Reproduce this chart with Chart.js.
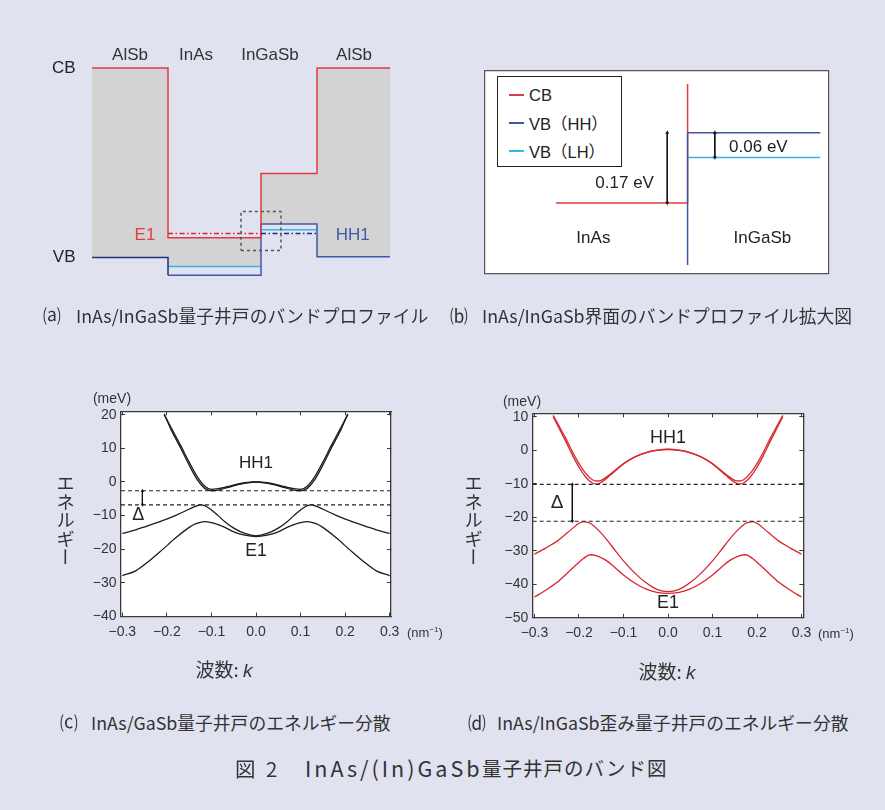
<!DOCTYPE html>
<html lang="ja">
<head>
<meta charset="utf-8">
<title>InAs/(In)GaSb量子井戸のバンド図</title>
<script src="https://cdn.jsdelivr.net/npm/chart.js@4.4.1/dist/chart.umd.min.js"></script>
<style>
  html, body { margin: 0; padding: 0; }
  body {
    width: 885px; height: 810px; position: relative; overflow: hidden;
    background: #e1e2f0; color: #333;
    font-family: "Noto Sans CJK JP", "Noto Sans", sans-serif;
  }
  canvas { position: absolute; }
  .t { position: absolute; white-space: nowrap; line-height: 1; transform: translateY(-50%); }
  .c { transform: translate(-50%, -50%); }
  .lat { font-family: "Liberation Sans", Arial, "Noto Sans CJK JP", sans-serif; }
  .cap { font-size: 17.8px; }
  .vt { position: absolute; writing-mode: vertical-rl; font-size: 18.5px; line-height: 1; }
  .legend {
    position: absolute; left: 497px; top: 76px; width: 125px; height: 91px;
    box-sizing: border-box; border: 1.3px solid #222; background: #fff;
  }
  .legend .row {
    position: absolute; left: 0; height: 20px; display: flex; align-items: center;
    font: 16.5px "Liberation Sans", Arial, "Noto Sans CJK JP", sans-serif; color: #222;
  }
  .legend .sw { display: block; width: 15px; height: 2px; margin: 0 5px 0 11px; }
  sup { font-size: 8px; vertical-align: 5px; }
</style>
</head>
<body>
<canvas id="bandA" width="420" height="270" style="left:30px;top:30px"></canvas>
<canvas id="bandB" width="360" height="220" style="left:480px;top:60px"></canvas>
<div id="legendB" class="legend"></div>
<canvas id="dispC" width="420" height="310" style="left:40px;top:380px"></canvas>
<canvas id="dispD" width="420" height="310" style="left:460px;top:380px"></canvas>

<!-- axis titles -->
<div class="vt" style="left:56px;top:474px">エネルギー</div>
<div class="vt" style="left:464px;top:474px">エネルギー</div>
<div class="t c lat" style="left:112px;top:398px;font-size:14px">(meV)</div>
<div class="t c lat" style="left:522px;top:401px;font-size:14px">(meV)</div>
<div class="t lat" style="left:407px;top:632px;font-size:13px">(nm<sup>−1</sup>)</div>
<div class="t lat" style="left:818px;top:633px;font-size:13px">(nm<sup>−1</sup>)</div>
<div class="t c" style="left:224px;top:669px;font-size:19px">波数: <i class="lat">k</i></div>
<div class="t c" style="left:667px;top:671px;font-size:19px">波数: <i class="lat">k</i></div>

<!-- captions -->
<div class="t cap" style="left:43px;top:316px">⒜</div>
<div class="t cap" style="left:76px;top:316px">InAs/InGaSb量子井戸のバンドプロファイル</div>
<div class="t cap" style="left:450px;top:316px">⒝</div>
<div class="t cap" style="left:482px;top:316px">InAs/InGaSb界面のバンドプロファイル拡大図</div>
<div class="t cap" style="left:60px;top:723px">⒞</div>
<div class="t cap" style="left:91px;top:723px">InAs/GaSb量子井戸のエネルギー分散</div>
<div class="t cap" style="left:468px;top:723px">⒟</div>
<div class="t cap" style="left:497px;top:723px">InAs/InGaSb歪み量子井戸のエネルギー分散</div>

<div class="t" style="left:235px;top:768px;font-size:20.5px;letter-spacing:3px">図&nbsp;2</div>
<div class="t" style="left:305px;top:768px;font-size:21.5px;letter-spacing:3px">InAs/(In)GaSb</div>
<div class="t" style="left:482px;top:768px;font-size:19.5px;letter-spacing:1px">量子井戸のバンド図</div>

<script>
// ---- (a) band profile: AlSb | InAs | InGaSb | AlSb  (energies in eV, schematic)
const layerNames = ['AlSb', 'InAs', 'InGaSb', 'AlSb'];
const layerEdges = [0, 7.6, 16.9, 22.5, 29.8];
const cbEdge = [1.6, 0.167, 0.71, 1.6];
const hhEdge = [0, -0.148, 0.283, 0.008];
const lhEdge = [null, -0.075, 0.235, null];
const e1Level = 0.204;
const hh1Level = 0.204;
const zoomBoxX = [14.9, 18.9];
const zoomBoxE = [0.06, 0.388];
const bandTicks = [0, 1.6];
const bandTickLabels = ['VB', 'CB'];

// ---- (b) InAs/InGaSb interface (eV)
const ifaceX = [-1.32, 0, 1.33];
const cbInAs = 0;
const cbIfaceTop = 0.288;
const hhInGaSb = 0.17;
const lhInGaSb = 0.11;
const vbIfaceBottom = -0.15;
const offsetLabels = ['0.17 eV', '0.06 eV'];

// ---- (c) InAs/GaSb dispersion (k in nm^-1, E in meV)
const kHHc = [-0.206, -0.19, -0.17, -0.15, -0.13, -0.115, -0.1, -0.085, -0.065, -0.04, -0.02, 0,
              0.02, 0.04, 0.065, 0.085, 0.1, 0.115, 0.13, 0.15, 0.17, 0.19, 0.206];
const hh1aC = [20.0, 16.0, 11.1, 5.9, 1.2, -1.3, -2.2, -2.0, -1.4, -0.6, -0.15, 0,
               -0.15, -0.6, -1.4, -2.0, -2.2, -1.3, 1.2, 5.9, 11.1, 16.0, 20.0];
const hh1bC = [20.2, 15.4, 10.3, 5.0, 0.3, -1.9, -2.6, -2.4, -1.7, -0.8, -0.25, 0,
               -0.25, -0.8, -1.7, -2.4, -2.6, -1.9, 0.3, 5.0, 10.3, 15.4, 20.2];
const kEc = [-0.3, -0.27, -0.24, -0.21, -0.18, -0.15, -0.135, -0.125, -0.115, -0.1, -0.085, -0.07, -0.05, -0.025, 0,
             0.025, 0.05, 0.07, 0.085, 0.1, 0.115, 0.125, 0.135, 0.15, 0.18, 0.21, 0.24, 0.27, 0.3];
const e1aC = [-15.3, -14.2, -12.9, -11.5, -9.9, -8.1, -7.2, -6.8, -7.0, -8.3, -10.0, -11.8, -13.7, -15.3, -16.0,
              -15.3, -13.7, -11.8, -10.0, -8.3, -7.0, -6.8, -7.2, -8.1, -9.9, -11.5, -12.9, -14.2, -15.3];
const e1bC = [-27.8, -26.4, -23.5, -20.1, -16.6, -13.5, -12.4, -12.0, -11.8, -12.1, -12.7, -13.5, -14.8, -15.8, -16.2,
              -15.8, -14.8, -13.5, -12.7, -12.1, -11.8, -12.0, -12.4, -13.5, -16.6, -20.1, -23.5, -26.4, -27.8];
const gapC = [-2.6, -6.8];

// ---- (d) strained InAs/InGaSb dispersion
const kHHd = [-0.258, -0.245, -0.23, -0.215, -0.2, -0.185, -0.17, -0.16, -0.15, -0.13, -0.1, -0.075, -0.05, -0.025, 0,
              0.025, 0.05, 0.075, 0.1, 0.13, 0.15, 0.16, 0.17, 0.185, 0.2, 0.215, 0.23, 0.245, 0.258];
const hh1aD = [10.4, 7.3, 3.6, -0.4, -4.0, -6.9, -8.8, -9.2, -9.0, -7.2, -4.0, -2.0, -0.7, 0.0, 0.3,
               0.0, -0.7, -2.0, -4.0, -7.2, -9.0, -9.2, -8.8, -6.9, -4.0, -0.4, 3.6, 7.3, 10.4];
const hh1bD = [10.0, 6.6, 2.7, -1.4, -5.1, -8.0, -9.8, -10.1, -9.6, -7.5, -4.1, -2.1, -0.8, -0.05, 0.2,
               -0.05, -0.8, -2.1, -4.1, -7.5, -9.6, -10.1, -9.8, -8.0, -5.1, -1.4, 2.7, 6.6, 10.0];
const kEd = [-0.3, -0.275, -0.25, -0.225, -0.2, -0.19, -0.175, -0.16, -0.14, -0.12, -0.1, -0.075, -0.05, -0.025, 0,
             0.025, 0.05, 0.075, 0.1, 0.12, 0.14, 0.16, 0.175, 0.19, 0.2, 0.225, 0.25, 0.275, 0.3];
const e1aD = [-31.0, -29.2, -27.2, -24.5, -21.8, -21.3, -21.8, -23.4, -26.3, -29.7, -33.0, -36.6, -39.5, -41.5, -42.2,
              -41.5, -39.5, -36.6, -33.0, -29.7, -26.3, -23.4, -21.8, -21.3, -21.8, -24.5, -27.2, -29.2, -31.0];
const e1bD = [-43.8, -41.8, -39.5, -36.5, -33.4, -32.3, -31.2, -31.5, -32.8, -34.9, -37.2, -39.6, -41.4, -42.4, -42.7,
              -42.4, -41.4, -39.6, -37.2, -34.9, -32.8, -31.5, -31.2, -32.3, -33.4, -36.5, -39.5, -41.8, -43.8];
const gapD = [-10.2, -21.2];

const kTicks = [-0.3, -0.2, -0.1, 0, 0.1, 0.2, 0.3];
const eTicksC = [-40, -30, -20, -10, 0, 10, 20];
const eTicksD = [-50, -40, -30, -20, -10, 0, 10];

const RED = '#e03c44', BLUE = '#4159a5', NAVY = '#23307a', CYAN = '#36b6e4';
const CURVE_RED = '#d8262e', INK = '#1c1c1c';
const LATIN = '"Liberation Sans", Arial, sans-serif';

Chart.defaults.font.family = LATIN;
Chart.defaults.color = '#333';
Chart.defaults.animation = false;
Chart.defaults.responsive = false;
Chart.defaults.devicePixelRatio = 1;
Chart.defaults.events = [];
Chart.defaults.plugins.legend.display = false;
Chart.defaults.plugins.tooltip.enabled = false;
Chart.defaults.elements.point.radius = 0;

// text placed at data coordinates
const notesPlugin = {
  id: 'notes',
  afterDatasetsDraw(chart, args, opts) {
    const {ctx} = chart;
    const xs = chart.scales.x, ys = chart.scales.y;
    (opts.items || []).forEach(t => {
      ctx.save();
      ctx.font = t.size + 'px ' + LATIN;
      ctx.fillStyle = t.color || '#333';
      ctx.textAlign = t.align || 'center';
      ctx.textBaseline = 'middle';
      ctx.fillText(t.text, xs.getPixelForValue(t.x), ys.getPixelForValue(t.y));
      ctx.restore();
    });
  }
};
// white plot area
const paperPlugin = {
  id: 'paper',
  beforeDraw(chart, args, opts) {
    if (!opts.color) return;
    const {ctx, chartArea: a} = chart;
    ctx.save();
    ctx.fillStyle = opts.color;
    ctx.fillRect(a.left, a.top, a.width, a.height);
    ctx.restore();
  }
};
Chart.register(notesPlugin, paperPlugin);

const pts = (xs, ys) => xs.map((x, i) => ({x, y: ys[i]}));

// ================= (a)
const stepPts = vals => layerEdges.map((x, i) => ({x, y: vals[Math.min(i, vals.length - 1)]}));
const vbTop = hhEdge.map((v, i) => lhEdge[i] == null ? v : Math.max(v, lhEdge[i]));
const lhPts = [];
lhEdge.forEach((v, i) => {
  if (v == null) return;
  lhPts.push({x: layerEdges[i], y: v}, {x: layerEdges[i + 1], y: v}, {x: layerEdges[i + 1], y: null});
});

new Chart(document.getElementById('bandA'), {
  type: 'line',
  data: {
    datasets: [
      {label: 'CB', data: stepPts(cbEdge), stepped: true, borderColor: RED, borderWidth: 1.5, clip: false, order: 2},
      {data: stepPts(vbTop), stepped: true, borderWidth: 0, borderColor: 'rgba(0,0,0,0)',
       backgroundColor: '#d3d3d3', fill: {target: 0}, clip: false, order: 10},
      {label: 'VB (HH)', data: stepPts(hhEdge), stepped: true, borderWidth: 1.5, clip: false, order: 2,
       borderColor: BLUE, segment: {borderColor: c => c.p0DataIndex === 0 ? NAVY : BLUE}},
      {label: 'VB (LH)', data: lhPts, borderColor: CYAN, borderWidth: 1.5, clip: false, order: 3},
      {label: 'E1', data: [{x: layerEdges[1], y: e1Level}, {x: layerEdges[2], y: e1Level}],
       borderColor: '#e8202c', borderWidth: 1.5, borderDash: [5, 2.5, 1.5, 2.5], order: 1},
      {label: 'HH1', data: [{x: layerEdges[2], y: hh1Level}, {x: layerEdges[3], y: hh1Level}],
       borderColor: '#1c2f8c', borderWidth: 1.5, borderDash: [5, 2.5, 1.5, 2.5], order: 1},
      {data: [{x: zoomBoxX[0], y: zoomBoxE[0]}, {x: zoomBoxX[1], y: zoomBoxE[0]}, {x: zoomBoxX[1], y: zoomBoxE[1]},
              {x: zoomBoxX[0], y: zoomBoxE[1]}, {x: zoomBoxX[0], y: zoomBoxE[0]}],
       borderColor: '#555', borderWidth: 1.5, borderDash: [3, 3], order: 0}
    ]
  },
  options: {
    layout: {padding: {left: 0, right: 60, top: 38, bottom: 9.6}},
    plugins: {
      filler: {drawTime: 'beforeDatasetsDraw'},
      notes: {items: [
        {text: layerNames[0], x: 3.8, y: 1.705, size: 17},
        {text: layerNames[1], x: 10.4, y: 1.705, size: 17},
        {text: layerNames[2], x: 17.8, y: 1.705, size: 17},
        {text: layerNames[3], x: 26.2, y: 1.705, size: 17},
        {text: 'E1', x: 5.3, y: 0.19, size: 17, color: RED},
        {text: 'HH1', x: 26.07, y: 0.19, size: 17, color: BLUE}
      ]}
    },
    scales: {
      x: {type: 'linear', display: false, min: layerEdges[0], max: layerEdges[layerEdges.length - 1]},
      y: {type: 'linear', min: -0.2, max: 1.6,
          grid: {display: false}, border: {display: false},
          afterBuildTicks: s => { s.ticks = bandTicks.map(v => ({value: v})); },
          afterFit: s => { s.width = 62; },
          ticks: {padding: 8.5, color: '#222', font: {size: 17},
                  callback: v => bandTickLabels[bandTicks.indexOf(v)]}}
    }
  }
});

// ================= (b)
const boxAxis = (position, min, max) => ({
  type: 'linear', position, min, max,
  grid: {display: false}, ticks: {display: false},
  border: {display: true, dash: [3, 2], color: '#555', width: 1.2},
  afterFit: s => { if (s.isHorizontal()) s.height = 0; else s.width = 0; }
});
const arrowStyle = {borderColor: '#111', borderWidth: 1, pointStyle: 'triangle', pointRadius: 2.3,
                    pointRotation: [0, 180], pointBackgroundColor: '#111', pointBorderWidth: 0, order: 0};

const chartB = new Chart(document.getElementById('bandB'), {
  type: 'line',
  data: {
    datasets: [
      {label: 'CB', data: [{x: ifaceX[0], y: cbInAs}, {x: ifaceX[1], y: cbInAs}, {x: ifaceX[1], y: cbIfaceTop}],
       borderColor: RED, borderWidth: 1.5, order: 3},
      {label: 'VB（HH）', data: [{x: ifaceX[1], y: vbIfaceBottom}, {x: ifaceX[1], y: hhInGaSb}, {x: ifaceX[2], y: hhInGaSb}],
       borderColor: BLUE, borderWidth: 1.5, order: 2},
      {label: 'VB（LH）', data: [{x: ifaceX[1], y: lhInGaSb}, {x: ifaceX[2], y: lhInGaSb}],
       borderColor: CYAN, borderWidth: 1.5, order: 2},
      Object.assign({data: [{x: -0.204, y: hhInGaSb}, {x: -0.204, y: cbInAs}]}, arrowStyle),
      Object.assign({data: [{x: 0.273, y: hhInGaSb}, {x: 0.273, y: lhInGaSb}]}, arrowStyle)
    ]
  },
  options: {
    layout: {padding: {left: 5, right: 11.7, top: 10.7, bottom: 6.7}},
    plugins: {
      paper: {color: '#ffffff'},
      notes: {items: [
        {text: offsetLabels[0], x: -0.337, y: 0.048, size: 17, align: 'right', color: '#222'},
        {text: offsetLabels[1], x: 0.416, y: 0.135, size: 17, align: 'left', color: '#222'},
        {text: 'InAs', x: -0.944, y: -0.086, size: 17, color: '#222'},
        {text: 'InGaSb', x: 0.75, y: -0.086, size: 17, color: '#222'}
      ]}
    },
    scales: {
      x: boxAxis('bottom', -2.03, 1.41),
      x2: boxAxis('top', -2.03, 1.41),
      y: boxAxis('left', -0.17, 0.32),
      y2: boxAxis('right', -0.17, 0.32)
    }
  }
});

// HTML legend from the chart's own datasets (resolved line colours)
const legendEl = document.getElementById('legendB');
chartB.data.datasets.forEach((d, i) => {
  if (!d.label) return;
  const meta = chartB.getDatasetMeta(i);
  const colour = (meta.dataset && meta.dataset.options.borderColor) || d.borderColor;
  const row = document.createElement('div');
  row.className = 'row';
  row.style.top = (18.3 + i * 28 - 10) + 'px';
  const sw = document.createElement('span');
  sw.className = 'sw';
  sw.style.backgroundColor = colour;
  row.appendChild(sw);
  row.appendChild(document.createTextNode(d.label));
  legendEl.appendChild(row);
});

// ================= (c), (d)
const fmt = (v, digits) => (Math.abs(v) < 1e-9 ? 0 : v).toFixed(digits).replace('-', '−');
const frameColor = '#3a3a3a';
function frameAxis(position, min, max, tickVals, size, digits) {
  const horiz = position === 'top' || position === 'bottom';
  const labelled = position === 'bottom' || position === 'left';
  return {
    type: 'linear', position, min, max,
    afterBuildTicks: s => { s.ticks = tickVals.map(v => ({value: v})); },
    afterFit: s => { if (horiz) s.height = size; else s.width = size; },
    grid: {drawOnChartArea: false, drawTicks: true, tickLength: -4, color: frameColor, lineWidth: 1},
    border: {display: true, color: frameColor, width: 1.3},
    ticks: {display: labelled, padding: horiz ? 10.8 : 8.5, color: '#333', font: {size: 14},
            maxRotation: 0, autoSkip: false, callback: v => fmt(v, digits)}
  };
}
function dispersionChart(id, cfg) {
  const curve = (k, e) => ({data: pts(k, e), borderColor: cfg.color, borderWidth: 1.3,
                            cubicInterpolationMode: 'monotone', order: 2});
  const level = e => ({data: [{x: -cfg.kMax, y: e}, {x: cfg.kMax, y: e}], borderColor: '#222',
                       borderWidth: 1.1, borderDash: [4, 3], order: 1});
  return new Chart(document.getElementById(id), {
    type: 'line',
    data: {
      datasets: [
        curve(cfg.kHH, cfg.hhA), curve(cfg.kHH, cfg.hhB),
        curve(cfg.kE, cfg.eA), curve(cfg.kE, cfg.eB),
        level(cfg.gap[0]), level(cfg.gap[1]),
        Object.assign({data: [{x: cfg.arrowK, y: cfg.gap[0]}, {x: cfg.arrowK, y: cfg.gap[1]}]}, arrowStyle,
                      {pointRadius: 2})
      ]
    },
    options: {
      layout: {padding: cfg.padding},
      plugins: {paper: {color: '#ffffff'}, notes: {items: cfg.notes}},
      scales: {
        x: frameAxis('bottom', -cfg.kMax, cfg.kMax, kTicks, cfg.xSize, 1),
        x2: frameAxis('top', -cfg.kMax, cfg.kMax, kTicks, 0, 1),
        y: frameAxis('left', cfg.eMin, cfg.eMax, cfg.eTicks, cfg.ySize, 0),
        y2: frameAxis('right', cfg.eMin, cfg.eMax, cfg.eTicks, 0, 0)
      }
    }
  });
}

dispersionChart('dispC', {
  color: INK, kHH: kHHc, hhA: hh1aC, hhB: hh1bC, kE: kEc, eA: e1aC, eB: e1bC, gap: gapC,
  arrowK: -0.255, kMax: 0.303, eMin: -40, eMax: 21, eTicks: eTicksC,
  xSize: 73.4, ySize: 81, padding: {left: 0, right: 69, top: 31.3, bottom: 0},
  notes: [
    {text: 'HH1', x: 0, y: 5.4, size: 17, color: '#222'},
    {text: 'E1', x: 0, y: -20.7, size: 17.5, color: '#222'},
    {text: 'Δ', x: -0.264, y: -9.8, size: 18, color: '#222'}
  ]
});

dispersionChart('dispD', {
  color: CURVE_RED, kHH: kHHd, hhA: hh1aD, hhB: hh1bD, kE: kEd, eA: e1aD, eB: e1bD, gap: gapD,
  arrowK: -0.215, kMax: 0.304, eMin: -50, eMax: 11, eTicks: eTicksD,
  xSize: 72.2, ySize: 72.7, padding: {left: 0, right: 76.7, top: 33.3, bottom: 0},
  notes: [
    {text: 'HH1', x: 0, y: 3.5, size: 18, color: '#222'},
    {text: 'E1', x: 0, y: -45.7, size: 18, color: '#222'},
    {text: 'Δ', x: -0.249, y: -15.7, size: 19, color: '#222'}
  ]
});
</script>
</body>
</html>
